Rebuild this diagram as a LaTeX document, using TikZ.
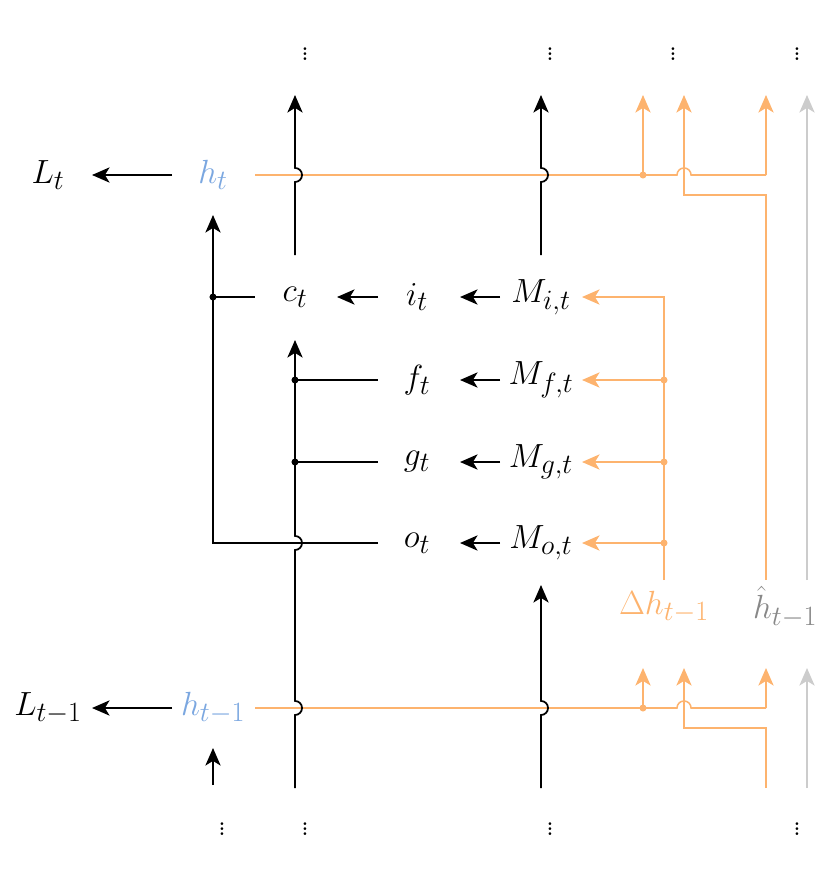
\documentclass[tikz,border=0pt]{standalone}
\usepackage{graphicx}
\usetikzlibrary{arrows.meta}
\definecolor{org}{RGB}{253,179,110}
\definecolor{hblue}{RGB}{123,167,224}
\definecolor{gl}{RGB}{204,204,204}
\definecolor{gt}{RGB}{136,136,136}
\newcommand\myT[1]{\scalebox{1.15}{$#1$}}
\begin{document}
\begin{tikzpicture}[x=0.03cm,y=-0.03cm,font=\Huge,
  ln/.style={line width=1.5pt,line join=miter},
  bk/.style={ln,black},
  og/.style={ln,org,line width=1.3pt},
  gr/.style={ln,gl,line width=1.3pt},
  arr/.style={-{Stealth[length=15pt,width=13pt,inset=4pt]}},
  dot/.style={circle,fill,inner sep=0pt,minimum size=6pt},
  lbl/.style={inner sep=0pt}]
\useasboundingbox (0,0) rectangle (831,884);
% text
\node[lbl] (Lt) at (48,175) {\myT{L_t}};
\node[lbl,text=hblue] (ht) at (213,175) {\myT{h_t}};
\node[lbl] (ct) at (295,297) {\myT{c_t}};
\node[lbl] (it) at (417,297) {\myT{i_t}};
\node[lbl] (ft) at (417,380) {\myT{f_t}};
\node[lbl] (gtt) at (417,462) {\myT{g_t}};
\node[lbl] (ot) at (417,543) {\myT{o_t}};
\node[lbl] (Mi) at (541,297) {\myT{M_{i,t}}};
\node[lbl] (Mf) at (541,380) {\myT{M_{f,t}}};
\node[lbl] (Mg) at (541,462) {\myT{M_{g,t}}};
\node[lbl] (Mo) at (541,543) {\myT{M_{o,t}}};
\node[lbl,text=org] (dh) at (664,607) {\myT{\Delta h_{t-1}}};
\node[lbl,text=gt] (hh) at (785,607) {\myT{\hat h_{t-1}}};
\node[lbl,text=hblue] (htm) at (213,708) {\myT{h_{t-1}}};
\node[lbl] (Ltm) at (48,708) {\myT{L_{t-1}}};
\foreach \x/\n in {305/a,550/b,673/c,797/d} \node[lbl] (vt\n) at (\x,50) {\myT{\vdots}};
\foreach \x/\n in {222/a,305/b,550/c,797/d} \node[lbl] (vb\n) at (\x,825) {\myT{\vdots}};
% orange, top
\draw[og] (255,175) -- (677,175) arc[start angle=180,end angle=0,radius=6pt] -- (766,175);
\draw[og,arr] (766,175) -- (766,95);
\draw[og,arr] (643,175) -- (643,95);
\node[dot,org] at (643,175) {};
\draw[og,arr] (766,580) -- (766,195) -- (684,195) -- (684,95);
\draw[gr,arr] (807,580) -- (807,95);
% orange, bottom
\draw[og] (255,708) -- (677,708) arc[start angle=180,end angle=0,radius=6pt] -- (766,708);
\draw[og,arr] (766,708) -- (766,668);
\draw[og,arr] (643,708) -- (643,668);
\node[dot,org] at (643,708) {};
\draw[og,arr] (766,788) -- (766,728) -- (684,728) -- (684,668);
\draw[gr,arr] (807,788) -- (807,668);
% orange to M
\draw[og,arr] (664,580) -- (664,297) -- (582,297);
\foreach \y in {380,462,543} {\draw[og,arr] (664,\y) -- (582,\y); \node[dot,org] at (664,\y) {};}
% black
\draw[bk,arr] (172,175) -- (92,175);
\draw[bk,arr] (172,708) -- (92,708);
\draw[bk,arr] (295,255) -- (295,182) arc[start angle=-90,end angle=90,radius=6pt] -- (295,95);
\draw[bk,arr] (541,255) -- (541,182) arc[start angle=-90,end angle=90,radius=6pt] -- (541,95);
\draw[bk,arr] (295,788) -- (295,715) arc[start angle=-90,end angle=90,radius=6pt] -- (295,550) arc[start angle=-90,end angle=90,radius=6pt] -- (295,340);
\draw[bk,arr] (541,788) -- (541,715) arc[start angle=-90,end angle=90,radius=6pt] -- (541,585);
\draw[bk,arr] (213,785) -- (213,748);
\draw[bk,arr] (378,543) -- (213,543) -- (213,215);
\draw[bk] (213,297) -- (255,297);
\node[dot] at (213,297) {};
\foreach \y in {380,462} {\draw[bk] (295,\y) -- (378,\y); \node[dot] at (295,\y) {};}
\draw[bk,arr] (378,297) -- (337,297);
\foreach \y in {297,380,462,543} \draw[bk,arr] (500,\y) -- (460,\y);
\end{tikzpicture}
\end{document}
